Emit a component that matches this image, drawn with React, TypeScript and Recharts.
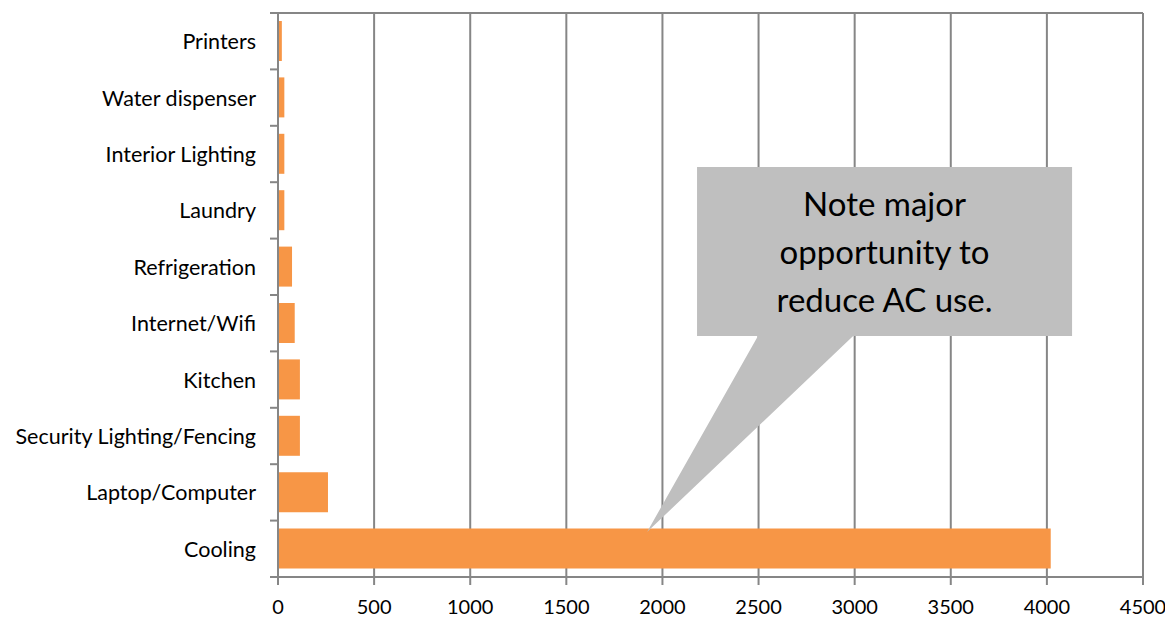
import React from 'react';
import { BarChart, Bar, XAxis, YAxis, CartesianGrid } from 'recharts';

const categories = [
  'Printers',
  'Water dispenser',
  'Interior Lighting',
  'Laundry',
  'Refrigeration',
  'Internet/Wifi',
  'Kitchen',
  'Security Lighting/Fencing',
  'Laptop/Computer',
  'Cooling',
];
const usage = [20, 33, 33, 33, 73, 87, 114, 114, 260, 4020];
const xTicks = [0, 500, 1000, 1500, 2000, 2500, 3000, 3500, 4000, 4500];
const calloutLines = ['Note major', 'opportunity to', 'reduce AC use.'];

const data = categories.map((name, i) => ({ name, value: usage[i] }));

const W = 1165;
const H = 614;
const LEFT = 270;
const TOP = 5;
const RIGHT = 30;
const X_H = 45;
const PLOT_W = W - LEFT - RIGHT;
const PLOT_H = H - TOP - X_H;
const BAND = PLOT_H / categories.length;
const X_MAX = xTicks[xTicks.length - 1];
const GRAY = '#868686';
const FONT = 'Lato, sans-serif';

const xPx = (v: number) => LEFT + (v / X_MAX) * PLOT_W;

// category label + Excel-style tick between categories
const CategoryTick = (props: any) => {
  const { y, payload, index } = props;
  return (
    <g>
      <text x={LEFT - 22} y={y} textAnchor="end" dominantBaseline="central" fontSize={21.5} fill="#000" fontFamily={FONT}>
        {payload.value}
      </text>
      {index === 0 && <line x1={LEFT - 8} x2={LEFT} y1={y - BAND / 2} y2={y - BAND / 2} stroke={GRAY} strokeWidth={2} />}
      <line x1={LEFT - 8} x2={LEFT} y1={y + BAND / 2} y2={y + BAND / 2} stroke={GRAY} strokeWidth={2} />
    </g>
  );
};

const Callout = () => {
  const bx1 = xPx(2180), bx2 = xPx(4131);
  const by1 = 159, by2 = 328;
  const pts = [
    [bx1, by1], [bx2, by1], [bx2, by2], [xPx(2992), by2],
    [xPx(1920), 524], [xPx(2497), by2], [bx1, by2],
  ].map((p) => p.join(',')).join(' ');
  const cx = (bx1 + bx2) / 2;
  return (
    <svg width={W} height={H} style={{ position: 'absolute', left: 0, top: 0, pointerEvents: 'none' }}>
      <polygon points={pts} fill="#bfbfbf" />
      {calloutLines.map((t, i) => (
        <text key={t} x={cx} y={208 + i * 48} textAnchor="middle" fontSize={33} fill="#000" fontFamily={FONT}>
          {t}
        </text>
      ))}
    </svg>
  );
};

export default function App() {
  return (
    <div style={{ position: 'relative', width: W, height: H, fontFamily: FONT }}>
      <BarChart width={W} height={H} data={data} layout="vertical" margin={{ top: TOP, right: RIGHT, bottom: 0, left: 0 }} barSize={40}>
        <CartesianGrid horizontal={true} vertical={true} horizontalPoints={[TOP]} stroke={GRAY} strokeWidth={2} />
        <XAxis
          type="number"
          domain={[0, X_MAX]}
          ticks={xTicks}
          interval={0}
          height={X_H}
          axisLine={{ stroke: GRAY, strokeWidth: 2 }}
          tickLine={{ stroke: GRAY, strokeWidth: 2 }}
          tickSize={8}
          tickMargin={15}
          tick={{ fontSize: 20, fill: '#000', fontFamily: FONT }}
        />
        <YAxis
          type="category"
          dataKey="name"
          width={LEFT}
          axisLine={{ stroke: GRAY, strokeWidth: 2 }}
          tickLine={false}
          interval={0}
          tick={<CategoryTick />}
        />
        <Bar dataKey="value" fill="#f79646" isAnimationActive={false} />
      </BarChart>
      <Callout />
    </div>
  );
}
